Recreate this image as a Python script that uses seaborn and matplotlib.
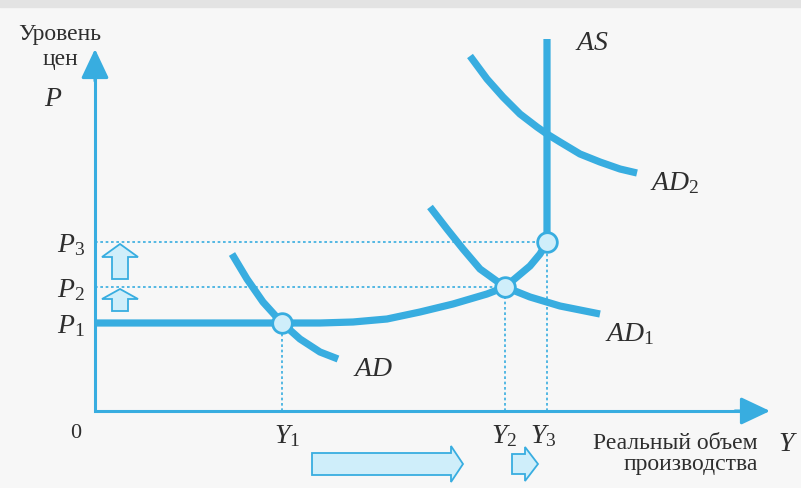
import matplotlib.pyplot as plt
import seaborn as sns
import pandas as pd
from matplotlib.patches import FancyArrow, Rectangle

# уровни (1 единица = 10 px картинки)
y_levels = [18.7, 41.0, 45.2]   # Y1, Y2, Y3
p_levels = [8.8, 12.4, 16.9]    # P1, P2, P3
y_names = ["$Y_1$", "$Y_2$", "$Y_3$"]
p_names = ["$P_1$", "$P_2$", "$P_3$"]

# кривая AS
as_x = [0, 18.7, 22.5, 25.8, 29.2, 32.5, 35.8, 39.2, 41.0, 43.5, 44.5, 45.2, 45.2]
as_y = [8.8, 8.8, 8.8, 8.9, 9.2, 9.9, 10.7, 11.7, 12.4, 14.5, 15.7, 16.9, 37.2]

# кривые спроса
ad_x = [13.7, 15.2, 16.8, 18.7, 20.5, 22.5, 24.3]
ad_y = [15.7, 13.2, 10.9, 8.8, 7.2, 5.9, 5.2]
ad1_x = [33.5, 35.2, 36.8, 38.5, 41.0, 43.5, 46.5, 50.5]
ad1_y = [20.4, 18.2, 16.2, 14.2, 12.4, 11.4, 10.5, 9.7]
ad2_x = [37.5, 39.2, 40.8, 42.5, 44.2, 45.2, 46.5, 48.5, 50.5, 52.5, 54.2]
ad2_y = [35.5, 33.2, 31.4, 29.7, 28.4, 27.7, 26.9, 25.7, 24.9, 24.2, 23.8]

blue = "#38ade0"
light = "#cfeefa"
ink = "#2e2e2e"

sns.set_theme(style="white")
plt.rcParams["font.family"] = ["Liberation Serif", "DejaVu Serif"]
plt.rcParams["mathtext.fontset"] = "custom"
plt.rcParams["mathtext.rm"] = "Liberation Serif"
plt.rcParams["mathtext.it"] = "Liberation Serif:italic"

fig = plt.figure(figsize=(8.01, 4.89), dpi=100)
fig.patch.set_facecolor("#f7f7f7")
fig.patches.append(Rectangle((0, 1 - 8 / 489), 1, 8 / 489, transform=fig.transFigure,
                             color="#e3e3e3", zorder=0))
ax = fig.add_axes([0, 0, 1, 1])
ax.set_xlim(-9.5, 70.6)
ax.set_ylim(-7.7, 41.2)
ax.axis("off")

# оси
ax.plot([0, 0, 65], [34, 0, 0], color=blue, lw=2.2, solid_joinstyle="miter",
        solid_capstyle="butt", zorder=3)
arrow = "-|>,head_length=1.8,head_width=0.85"
ax.annotate("", xy=(0, 36.2), xytext=(0, 33),
            arrowprops=dict(arrowstyle=arrow, color=blue, lw=2.2, shrinkA=0, shrinkB=0,
                            mutation_scale=10), zorder=3)
ax.annotate("", xy=(67.5, 0), xytext=(64, 0),
            arrowprops=dict(arrowstyle=arrow, color=blue, lw=2.2, shrinkA=0, shrinkB=0,
                            mutation_scale=10), zorder=3)

# пунктирные проекции
dot = dict(color=blue, lw=1.2, ls=(0, (1.6, 1.6)), zorder=2)
for yv, pv in zip(y_levels, p_levels):
    ax.plot([yv, yv], [0, pv], **dot)
for yv, pv in zip(y_levels[1:], p_levels[1:]):
    ax.plot([0, yv], [pv, pv], **dot)

# кривые
curves = [(as_x, as_y), (ad_x, ad_y), (ad1_x, ad1_y), (ad2_x, ad2_y)]
for cx, cy in curves:
    df = pd.DataFrame({"x": cx, "y": cy})
    sns.lineplot(data=df, x="x", y="y", sort=False, estimator=None, color=blue,
                 lw=5.2, ax=ax, zorder=4, solid_capstyle="butt", solid_joinstyle="round")

# точки равновесия
pts = pd.DataFrame({"x": y_levels, "y": p_levels})
sns.scatterplot(data=pts, x="x", y="y", s=200, color=light, edgecolor=blue,
                linewidth=2.0, ax=ax, zorder=5)

# стрелки сдвигов
arr_kw = dict(facecolor=light, edgecolor=blue, lw=1.3, length_includes_head=True, zorder=3)
ax.add_patch(FancyArrow(2.5, 13.2, 0, 3.5, width=1.6, head_width=3.6, head_length=1.3, **arr_kw))
ax.add_patch(FancyArrow(2.5, 10.0, 0, 2.2, width=1.6, head_width=3.6, head_length=1.0, **arr_kw))
ax.add_patch(FancyArrow(21.7, -5.3, 15.1, 0, width=2.2, head_width=3.6, head_length=1.2, **arr_kw))
ax.add_patch(FancyArrow(41.7, -5.3, 2.6, 0, width=2.0, head_width=3.4, head_length=1.3, **arr_kw))

# подписи
big = 20
ax.text(-3.5, 36.5, "Уровень\nцен", ha="center", va="center", fontsize=17,
        linespacing=1.3, color=ink)
ax.text(-4.2, 31.2, "$P$", ha="center", va="center", fontsize=big, color=ink)
ax.text(-1.9, -2.2, "0", ha="center", va="center", fontsize=16, color=ink)
for name, pv in zip(p_names, p_levels):
    ax.text(-1.0, pv - 0.2, name, ha="right", va="center", fontsize=big, color=ink)
for name, yv, dx in zip(y_names, y_levels, [0.5, -0.1, -0.4]):
    ax.text(yv + dx, -2.4, name, ha="center", va="center", fontsize=big, color=ink)
ax.text(48.0, 36.9, "$AS$", ha="left", va="center", fontsize=big, color=ink)
ax.text(55.5, 22.9, "$AD_2$", ha="left", va="center", fontsize=big, color=ink)
ax.text(51.0, 7.8, "$AD_1$", ha="left", va="center", fontsize=big, color=ink)
ax.text(25.8, 4.3, "$AD$", ha="left", va="center", fontsize=big, color=ink)
ax.text(66.3, -4.2, "Реальный объем\nпроизводства", ha="right", va="center",
        multialignment="right", fontsize=17, linespacing=1.05, color=ink)
ax.text(69.3, -3.3, "$Y$", ha="center", va="center", fontsize=big, color=ink)

fig.savefig("out.png", dpi=100, facecolor=fig.get_facecolor())
